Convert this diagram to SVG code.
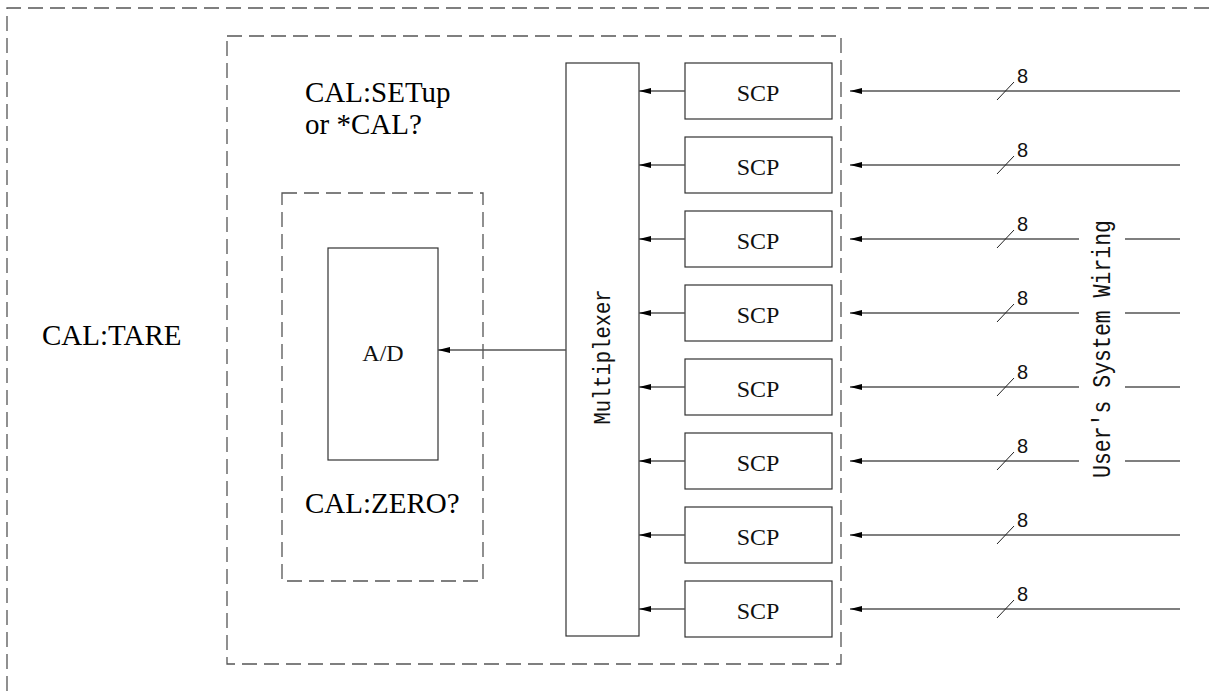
<svg xmlns="http://www.w3.org/2000/svg" width="1214" height="691" viewBox="0 0 1214 691">
<defs>
<style>
.dash{fill:none;stroke:#555;stroke-width:1.3;stroke-dasharray:15 7}
.box{fill:#fff;stroke:#333;stroke-width:1.2}
.wire{fill:none;stroke:#555;stroke-width:1.4}
.tick{fill:none;stroke:#222;stroke-width:1}
.big{font-family:"Liberation Serif","Times New Roman",serif;font-size:29px;fill:#000}
.lbl{font-family:"Liberation Serif","Times New Roman",serif;font-size:24px;fill:#111;text-anchor:middle}
.mono{font-family:"Liberation Mono","Courier New",monospace;fill:#111;text-anchor:middle}
.num{font-family:"Liberation Sans",Arial,sans-serif;font-size:20px;fill:#111}
</style>
<marker id="ah" viewBox="0 0 12 6" refX="12" refY="3" markerWidth="12" markerHeight="6" markerUnits="userSpaceOnUse" orient="auto">
<path d="M0,0 L12,3 L0,6 Z" fill="#000"/>
</marker>
</defs>
<rect width="1214" height="691" fill="#fff"/>

<g id="frames">
<path class="dash" d="M7,691 V8 H1214"/>
<rect class="dash" x="227" y="36" width="614" height="628"/>
<rect class="dash" x="282" y="193" width="201" height="388"/>
</g>

<g id="labels">
<text class="big" x="42" y="345">CAL:TARE</text>
<text class="big" x="305" y="102">CAL:SETup</text>
<text class="big" x="305" y="134">or *CAL?</text>
<text class="big" x="305" y="513">CAL:ZERO?</text>
<text class="mono" font-size="25" transform="translate(1110,349) rotate(-90)" textLength="258" lengthAdjust="spacingAndGlyphs">User's System Wiring</text>
</g>

<g id="ad">
<rect class="box" x="328" y="248" width="110" height="212"/>
<text class="lbl" x="383" y="361">A/D</text>
</g>

<g id="mux">
<rect class="box" x="566" y="63" width="73" height="573"/>
<text class="mono" font-size="24" transform="translate(610,357) rotate(-90)" textLength="135" lengthAdjust="spacingAndGlyphs">Multiplexer</text>
</g>

<g id="scp1"><rect class="box" x="685" y="63" width="147" height="56"/><text class="lbl" x="758" y="101">SCP</text></g>
<g id="scp2"><rect class="box" x="685" y="137" width="147" height="56"/><text class="lbl" x="758" y="175">SCP</text></g>
<g id="scp3"><rect class="box" x="685" y="211" width="147" height="56"/><text class="lbl" x="758" y="249">SCP</text></g>
<g id="scp4"><rect class="box" x="685" y="285" width="147" height="56"/><text class="lbl" x="758" y="323">SCP</text></g>
<g id="scp5"><rect class="box" x="685" y="359" width="147" height="56"/><text class="lbl" x="758" y="397">SCP</text></g>
<g id="scp6"><rect class="box" x="685" y="433" width="147" height="56"/><text class="lbl" x="758" y="471">SCP</text></g>
<g id="scp7"><rect class="box" x="685" y="507" width="147" height="56"/><text class="lbl" x="758" y="545">SCP</text></g>
<g id="scp8"><rect class="box" x="685" y="581" width="147" height="56"/><text class="lbl" x="758" y="619">SCP</text></g>

<g id="connectors">
<path class="wire" d="M566,350 H438" marker-end="url(#ah)"/>
<path class="wire" d="M685,91 H639" marker-end="url(#ah)"/>
<path class="wire" d="M685,165 H639" marker-end="url(#ah)"/>
<path class="wire" d="M685,239 H639" marker-end="url(#ah)"/>
<path class="wire" d="M685,313 H639" marker-end="url(#ah)"/>
<path class="wire" d="M685,387 H639" marker-end="url(#ah)"/>
<path class="wire" d="M685,461 H639" marker-end="url(#ah)"/>
<path class="wire" d="M685,535 H639" marker-end="url(#ah)"/>
<path class="wire" d="M685,609 H639" marker-end="url(#ah)"/>

<path class="wire" d="M1180,91 H850" marker-end="url(#ah)"/>
<path class="wire" d="M1180,165 H850" marker-end="url(#ah)"/>
<path class="wire" d="M1079,239 H850" marker-end="url(#ah)"/>
<path class="wire" d="M1079,313 H850" marker-end="url(#ah)"/>
<path class="wire" d="M1079,387 H850" marker-end="url(#ah)"/>
<path class="wire" d="M1079,461 H850" marker-end="url(#ah)"/>
<path class="wire" d="M1180,535 H850" marker-end="url(#ah)"/>
<path class="wire" d="M1180,609 H850" marker-end="url(#ah)"/>
<path class="wire" d="M1125,239 H1180 M1125,313 H1180 M1125,387 H1180 M1125,461 H1180"/>

<path class="tick" d="M997,100 L1014,82 M997,174 L1014,156 M997,248 L1014,230 M997,322 L1014,304 M997,396 L1014,378 M997,470 L1014,452 M997,544 L1014,526 M997,618 L1014,600"/>
<text class="num" x="1017" y="83">8</text>
<text class="num" x="1017" y="157">8</text>
<text class="num" x="1017" y="231">8</text>
<text class="num" x="1017" y="305">8</text>
<text class="num" x="1017" y="379">8</text>
<text class="num" x="1017" y="453">8</text>
<text class="num" x="1017" y="527">8</text>
<text class="num" x="1017" y="601">8</text>
</g>
</svg>
